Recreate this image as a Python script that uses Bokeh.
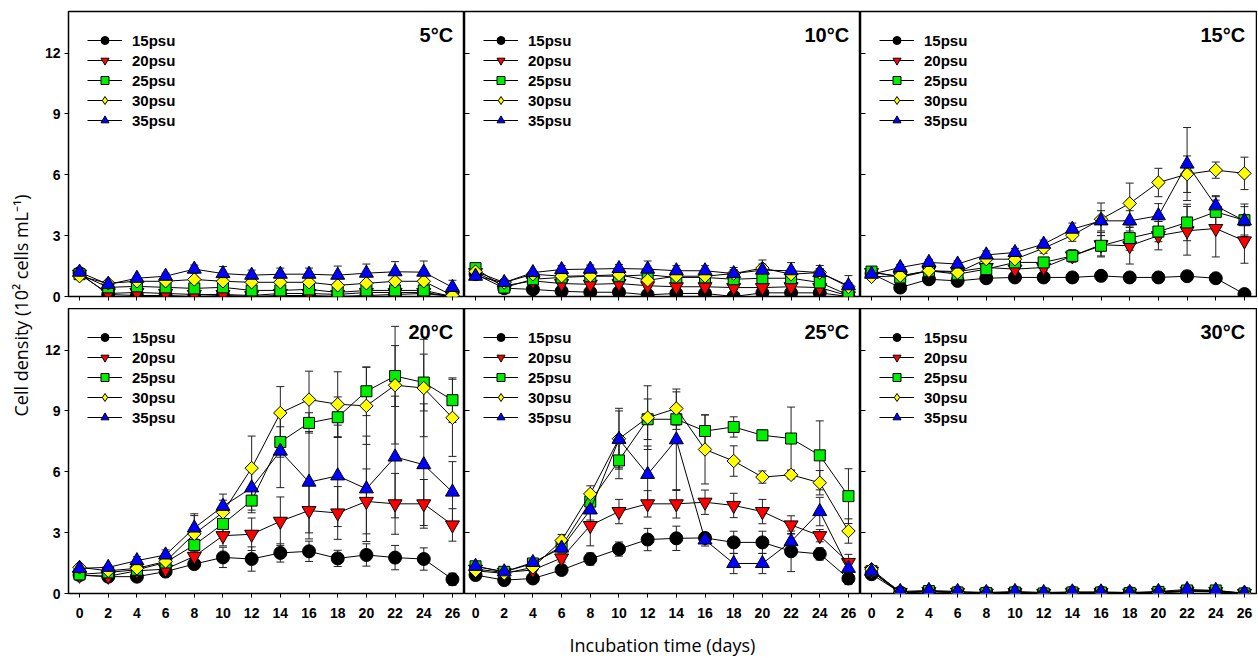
import numpy as np
from bokeh.plotting import figure
from bokeh.models import (ColumnDataSource, Whisker, TeeHead, Legend, LegendItem,
                          Range1d, Label, FixedTicker, CustomLabelingPolicy)
from bokeh.layouts import row, column
from bokeh.embed import file_html
from bokeh.resources import INLINE

# ---------------- data ----------------
days = [0, 2, 4, 6, 8, 10, 12, 14, 16, 18, 20, 22, 24, 26]
salinity_labels = ["15psu", "20psu", "25psu", "30psu", "35psu"]
temperature_labels = ["5\u00b0C", "10\u00b0C", "15\u00b0C", "20\u00b0C", "25\u00b0C", "30\u00b0C"]
y_ticks = [0, 3, 6, 9, 12]

# 5 C
t05_s15 = [1.15, 0.10, 0.05, 0.05, 0.00, 0.05, 0.00, 0.05, 0.05, 0.00, 0.05, 0.10, 0.15, 0.00]
t05_s20 = [1.10, 0.15, 0.20, 0.15, 0.10, 0.10, 0.05, 0.15, 0.15, 0.10, 0.20, 0.20, 0.20, 0.00]
t05_s25 = [1.10, 0.45, 0.50, 0.45, 0.40, 0.45, 0.30, 0.30, 0.35, 0.20, 0.30, 0.30, 0.30, 0.00]
t05_s30 = [1.00, 0.65, 0.75, 0.75, 0.84, 0.75, 0.70, 0.70, 0.70, 0.55, 0.65, 0.75, 0.75, 0.05]
t05_s35 = [1.20, 0.60, 0.90, 1.00, 1.35, 1.13, 1.05, 1.10, 1.10, 1.05, 1.15, 1.22, 1.20, 0.45]
t05_s15_sd = [0.10, 0.05, 0.05, 0.05, 0.05, 0.05, 0.05, 0.05, 0.05, 0.05, 0.05, 0.05, 0.05, 0.02]
t05_s20_sd = [0.10, 0.05, 0.05, 0.05, 0.05, 0.05, 0.05, 0.05, 0.05, 0.05, 0.05, 0.05, 0.05, 0.02]
t05_s25_sd = [0.10, 0.10, 0.10, 0.10, 0.10, 0.10, 0.10, 0.10, 0.10, 0.10, 0.10, 0.10, 0.10, 0.05]
t05_s30_sd = [0.10, 0.10, 0.10, 0.10, 0.15, 0.15, 0.15, 0.15, 0.15, 0.15, 0.15, 0.15, 0.15, 0.05]
t05_s35_sd = [0.10, 0.10, 0.10, 0.15, 0.20, 0.35, 0.25, 0.30, 0.30, 0.45, 0.45, 0.50, 0.55, 0.35]

# 10 C
t10_s15 = [1.10, 0.41, 0.35, 0.26, 0.21, 0.21, 0.08, 0.15, 0.15, 0.00, 0.18, 0.18, 0.18, 0.00]
t10_s20 = [1.18, 0.53, 0.77, 0.64, 0.60, 0.64, 0.53, 0.48, 0.48, 0.44, 0.44, 0.48, 0.44, 0.03]
t10_s25 = [1.40, 0.44, 0.85, 0.94, 1.00, 1.00, 1.07, 0.94, 0.94, 0.85, 0.90, 0.90, 0.69, 0.07]
t10_s30 = [1.23, 0.69, 1.10, 1.00, 1.02, 1.07, 0.80, 1.00, 1.00, 1.13, 1.40, 1.10, 1.18, 0.48]
t10_s35 = [1.00, 0.69, 1.18, 1.33, 1.35, 1.38, 1.35, 1.27, 1.27, 1.13, 1.30, 1.27, 1.18, 0.53]
t10_s15_sd = [0.10, 0.05, 0.05, 0.05, 0.05, 0.05, 0.05, 0.05, 0.05, 0.05, 0.05, 0.05, 0.05, 0.02]
t10_s20_sd = [0.10, 0.05, 0.10, 0.10, 0.10, 0.10, 0.10, 0.10, 0.10, 0.10, 0.10, 0.10, 0.10, 0.05]
t10_s25_sd = [0.10, 0.10, 0.10, 0.10, 0.10, 0.10, 0.15, 0.15, 0.15, 0.15, 0.15, 0.15, 0.15, 0.10]
t10_s30_sd = [0.10, 0.10, 0.10, 0.15, 0.15, 0.15, 0.20, 0.20, 0.20, 0.20, 0.20, 0.20, 0.20, 0.20]
t10_s35_sd = [0.10, 0.10, 0.10, 0.20, 0.20, 0.20, 0.40, 0.25, 0.25, 0.30, 0.50, 0.40, 0.35, 0.50]

# 15 C
t15_s15 = [1.13, 0.44, 0.85, 0.77, 0.90, 0.94, 0.94, 0.94, 1.02, 0.94, 0.94, 1.00, 0.90, 0.12]
t15_s20 = [1.18, 1.00, 1.27, 1.23, 1.43, 1.35, 1.43, 2.00, 2.55, 2.50, 3.00, 3.24, 3.35, 2.74]
t15_s25 = [1.23, 0.94, 1.27, 1.10, 1.35, 1.68, 1.68, 2.00, 2.50, 2.88, 3.20, 3.65, 4.17, 3.76]
t15_s30 = [0.97, 1.02, 1.27, 1.18, 1.84, 1.84, 2.38, 3.02, 3.81, 4.59, 5.62, 6.03, 6.23, 6.07]
t15_s35 = [1.10, 1.43, 1.68, 1.60, 2.05, 2.17, 2.58, 3.32, 3.73, 3.73, 3.98, 6.53, 4.47, 3.73]
t15_s15_sd = [0.10, 0.15, 0.15, 0.15, 0.15, 0.25, 0.20, 0.25, 0.20, 0.20, 0.25, 0.25, 0.20, 0.05]
t15_s20_sd = [0.10, 0.10, 0.10, 0.10, 0.15, 0.20, 0.15, 0.30, 0.60, 0.90, 0.70, 1.20, 1.40, 1.10]
t15_s25_sd = [0.10, 0.10, 0.10, 0.10, 0.15, 0.20, 0.20, 0.30, 0.50, 0.60, 0.50, 0.90, 0.75, 0.80]
t15_s30_sd = [0.10, 0.10, 0.10, 0.10, 0.20, 0.15, 0.25, 0.30, 0.80, 1.00, 0.70, 0.90, 0.40, 0.80]
t15_s35_sd = [0.10, 0.15, 0.15, 0.15, 0.20, 0.20, 0.20, 0.30, 0.50, 0.50, 0.60, 1.80, 0.50, 0.70]

# 20 C
t20_s15 = [0.91, 0.83, 0.83, 1.08, 1.45, 1.78, 1.70, 2.00, 2.08, 1.73, 1.90, 1.77, 1.70, 0.70]
t20_s20 = [0.90, 0.85, 1.12, 1.20, 1.83, 2.85, 2.92, 3.56, 4.09, 3.97, 4.54, 4.42, 4.42, 3.38]
t20_s25 = [0.94, 1.04, 1.17, 1.53, 2.39, 3.43, 4.58, 7.47, 8.41, 8.69, 9.97, 10.72, 10.40, 9.53]
t20_s30 = [1.29, 1.12, 1.24, 1.58, 2.94, 4.00, 6.18, 8.90, 9.56, 9.33, 9.25, 10.27, 10.13, 8.66]
t20_s35 = [1.24, 1.29, 1.62, 1.90, 3.23, 4.30, 5.21, 7.02, 5.49, 5.80, 5.16, 6.73, 6.35, 5.00]
t20_s15_sd = [0.15, 0.10, 0.15, 0.15, 0.20, 0.50, 0.60, 0.45, 0.50, 0.40, 0.55, 0.60, 0.55, 0.30]
t20_s20_sd = [0.15, 0.10, 0.15, 0.15, 0.30, 0.50, 0.80, 1.20, 1.40, 1.30, 1.60, 1.50, 1.20, 0.80]
t20_s25_sd = [0.15, 0.10, 0.15, 0.15, 0.30, 0.50, 0.60, 0.75, 0.50, 1.00, 1.20, 1.50, 1.40, 1.10]
t20_s30_sd = [0.15, 0.10, 0.15, 0.15, 0.90, 0.60, 1.58, 1.30, 1.40, 1.60, 1.90, 2.90, 2.40, 1.90]
t20_s35_sd = [0.15, 0.10, 0.20, 0.25, 0.70, 0.60, 1.10, 1.80, 2.50, 2.50, 2.60, 3.00, 3.00, 1.50]

# 25 C
t25_s15 = [0.91, 0.66, 0.74, 1.16, 1.70, 2.19, 2.66, 2.72, 2.74, 2.52, 2.52, 2.08, 1.95, 0.74]
t25_s20 = [1.20, 1.04, 1.16, 1.75, 3.35, 4.04, 4.42, 4.42, 4.50, 4.34, 4.04, 3.38, 2.85, 1.53]
t25_s25 = [1.34, 1.07, 1.48, 2.33, 4.53, 6.56, 8.59, 8.59, 8.01, 8.21, 7.80, 7.64, 6.81, 4.80]
t25_s30 = [1.12, 0.99, 1.29, 2.61, 4.91, 7.63, 8.67, 9.12, 7.10, 6.53, 5.74, 5.85, 5.46, 3.08]
t25_s35 = [1.34, 1.07, 1.53, 2.24, 4.12, 7.60, 5.87, 7.58, 2.64, 1.48, 1.48, 2.56, 4.04, 1.24]
t25_s15_sd = [0.10, 0.10, 0.10, 0.15, 0.30, 0.35, 0.55, 0.60, 0.25, 0.55, 0.55, 1.00, 0.30, 0.30]
t25_s20_sd = [0.10, 0.10, 0.15, 0.20, 1.00, 0.60, 0.65, 0.70, 0.60, 0.60, 0.60, 0.45, 0.30, 0.40]
t25_s25_sd = [0.10, 0.10, 0.15, 0.20, 0.40, 0.90, 1.00, 0.50, 0.80, 0.50, 0.25, 1.55, 1.70, 1.35]
t25_s30_sd = [0.10, 0.10, 0.15, 0.30, 0.40, 1.50, 1.57, 0.82, 1.70, 0.75, 0.30, 0.20, 0.60, 0.60]
t25_s35_sd = [0.10, 0.10, 0.15, 0.20, 0.50, 1.40, 1.40, 2.50, 0.30, 0.50, 0.50, 0.40, 0.70, 0.30]

# 30 C
t30_s15 = [0.95, 0.05, 0.10, 0.05, 0.02, 0.05, 0.00, 0.05, 0.05, 0.02, 0.05, 0.10, 0.10, 0.00]
t30_s20 = [1.10, 0.05, 0.10, 0.05, 0.02, 0.05, 0.00, 0.05, 0.05, 0.02, 0.05, 0.12, 0.10, 0.00]
t30_s25 = [1.10, 0.00, 0.12, 0.05, 0.02, 0.05, 0.00, 0.05, 0.05, 0.02, 0.08, 0.15, 0.15, 0.00]
t30_s30 = [1.20, 0.05, 0.10, 0.05, 0.00, 0.03, 0.00, 0.05, 0.03, 0.02, 0.05, 0.10, 0.08, 0.00]
t30_s35 = [1.10, 0.10, 0.15, 0.10, 0.05, 0.10, 0.05, 0.08, 0.08, 0.05, 0.10, 0.20, 0.15, 0.02]
t30_s15_sd = [0.10, 0.05, 0.05, 0.05, 0.05, 0.05, 0.05, 0.05, 0.05, 0.05, 0.05, 0.05, 0.05, 0.02]
t30_s20_sd = [0.10, 0.05, 0.05, 0.05, 0.05, 0.05, 0.05, 0.05, 0.05, 0.05, 0.05, 0.05, 0.05, 0.02]
t30_s25_sd = [0.10, 0.05, 0.05, 0.05, 0.05, 0.05, 0.05, 0.05, 0.05, 0.05, 0.05, 0.05, 0.05, 0.02]
t30_s30_sd = [0.10, 0.05, 0.05, 0.05, 0.05, 0.05, 0.05, 0.05, 0.05, 0.05, 0.05, 0.05, 0.05, 0.02]
t30_s35_sd = [0.10, 0.05, 0.05, 0.05, 0.05, 0.05, 0.05, 0.05, 0.05, 0.05, 0.05, 0.05, 0.05, 0.02]

panel_means = [
    [t05_s15, t05_s20, t05_s25, t05_s30, t05_s35],
    [t10_s15, t10_s20, t10_s25, t10_s30, t10_s35],
    [t15_s15, t15_s20, t15_s25, t15_s30, t15_s35],
    [t20_s15, t20_s20, t20_s25, t20_s30, t20_s35],
    [t25_s15, t25_s20, t25_s25, t25_s30, t25_s35],
    [t30_s15, t30_s20, t30_s25, t30_s30, t30_s35],
]
panel_sds = [
    [t05_s15_sd, t05_s20_sd, t05_s25_sd, t05_s30_sd, t05_s35_sd],
    [t10_s15_sd, t10_s20_sd, t10_s25_sd, t10_s30_sd, t10_s35_sd],
    [t15_s15_sd, t15_s20_sd, t15_s25_sd, t15_s30_sd, t15_s35_sd],
    [t20_s15_sd, t20_s20_sd, t20_s25_sd, t20_s30_sd, t20_s35_sd],
    [t25_s15_sd, t25_s20_sd, t25_s25_sd, t25_s30_sd, t25_s35_sd],
    [t30_s15_sd, t30_s20_sd, t30_s25_sd, t30_s30_sd, t30_s35_sd],
]

# ---------------- styles ----------------
markers = ["circle", "inverted_triangle", "square", "square", "triangle"]
marker_angles = [0, 0, 0, np.pi / 4, 0]
legend_markers = ["circle", "inverted_triangle", "square", "diamond", "triangle"]
marker_colors = ["#000000", "#ff0000", "#00ee00", "#ffff00", "#0000ff"]
marker_sizes = [13, 14, 11, 9.5, 14]

BOLD = "Liberation Sans"
TITLE_FONT = "Open Sans"
FW, FH = 396, 285
NO_LABELS = "for (const i of Array.from(indices)) { indices.unset(i) }\nreturn indices"


def make_panel(idx):
    col, rw = idx % 3, idx // 3
    p = figure(frame_width=FW, frame_height=FH,
               x_range=Range1d(-0.77, 26.84), y_range=Range1d(0, 14.05),
               output_backend="svg", toolbar_location=None, tools="",
               background_fill_color="white", border_fill_color="white")
    p.min_border_left = 30 if col == 0 else 0
    p.min_border_right = 1 if col == 2 else 0
    p.min_border_top = 11 if rw == 0 else 0
    p.min_border_bottom = 12 if rw == 0 else 30
    p.xgrid.visible = False
    p.ygrid.visible = False
    p.outline_line_color = "black"
    p.outline_line_width = 1.5

    xa = p.xaxis[0]
    xa.ticker = FixedTicker(ticks=days)
    xa.major_tick_out = 4
    xa.major_tick_in = 0
    xa.minor_tick_line_color = None
    xa.axis_line_color = None
    xa.major_tick_line_color = "black"
    if rw == 0:
        xa.major_label_policy = CustomLabelingPolicy(code=NO_LABELS)
        xa.major_label_text_font_size = "0px"
        xa.major_label_standoff = 0
    else:
        xa.major_label_text_font = BOLD
        xa.major_label_text_font_style = "bold"
        xa.major_label_text_font_size = "14px"
        xa.major_label_text_color = "black"
        xa.major_label_standoff = 10
        if col == 1:
            xa.axis_label = "Incubation time (days)"
            xa.axis_label_text_font = TITLE_FONT
            xa.axis_label_text_font_style = "normal"
            xa.axis_label_text_font_size = "18px"
            xa.axis_label_text_color = "black"
            xa.axis_label_standoff = 12

    ya = p.yaxis[0]
    ya.ticker = FixedTicker(ticks=y_ticks)
    ya.minor_tick_line_color = None
    ya.axis_line_color = None
    ya.major_tick_line_color = "black"
    if col == 0:
        ya.major_tick_out = 4
        ya.major_tick_in = 0
        ya.major_label_text_font = BOLD
        ya.major_label_text_font_style = "bold"
        ya.major_label_text_font_size = "14px"
        ya.major_label_text_color = "black"
        ya.major_label_standoff = 4
    else:
        # inner ticks only, no labels
        ya.major_tick_out = 0
        ya.major_tick_in = 5
        ya.major_label_policy = CustomLabelingPolicy(code=NO_LABELS)
        ya.major_label_text_font_size = "0px"
        ya.major_label_standoff = 0

    means = panel_means[idx]
    sds = panel_sds[idx]
    for m, s in zip(means, sds):
        m_a, s_a = np.array(m), np.array(s)
        src = ColumnDataSource(dict(x=days, upper=m_a + s_a, lower=m_a - s_a))
        p.add_layout(Whisker(source=src, base="x", upper="upper", lower="lower",
                             line_color="#222222", line_width=1,
                             upper_head=TeeHead(size=8, line_color="#222222", line_width=1),
                             lower_head=TeeHead(size=8, line_color="#222222", line_width=1)))
    items = []
    for k, m in enumerate(means):
        src = ColumnDataSource(dict(x=days, y=m))
        r_line = p.line("x", "y", source=src, line_color="black", line_width=1)
        legend_glyph = None
        if legend_markers[k] != markers[k]:
            # small glyph hidden under the rotated squares, used only for the legend key
            legend_glyph = p.scatter("x", "y", source=src, marker=legend_markers[k], size=5,
                                     fill_color=marker_colors[k], line_color="black",
                                     line_width=1)
        r_sc = p.scatter("x", "y", source=src, marker=markers[k], size=marker_sizes[k],
                         angle=marker_angles[k], fill_color=marker_colors[k],
                         line_color="black", line_width=1)
        items.append(LegendItem(label=salinity_labels[k],
                                renderers=[r_line, legend_glyph or r_sc]))
    legend = Legend(items=items, location="top_left",
                    glyph_width=35, glyph_height=20, label_height=20, spacing=0,
                    padding=10, margin=19, label_standoff=10,
                    label_text_font=BOLD, label_text_font_style="bold",
                    label_text_font_size="15px", label_text_color="black",
                    background_fill_alpha=0, border_line_color=None)
    p.add_layout(legend)
    p.add_layout(Label(x=26.05, y=12.87, text=temperature_labels[idx],
                       text_align="right", text_baseline="alphabetic",
                       text_font=BOLD, text_font_style="bold",
                       text_font_size="20px", text_color="black"))
    return p


panels = [make_panel(i) for i in range(6)]

# y-axis title spanning both rows
YT_W, YT_H = 38, 650
yt = figure(width=YT_W, height=YT_H, x_range=Range1d(0, YT_W), y_range=Range1d(0, YT_H),
            output_backend="svg", toolbar_location=None, tools="", min_border=0,
            background_fill_color="white", border_fill_color="white")
yt.axis.visible = False
yt.xgrid.visible = False
yt.ygrid.visible = False
yt.outline_line_color = None
yt.add_layout(Label(x=20, y=YT_H - 305, text="Cell density (10\u00b2 cells mL\u207b\u00b9)",
                    angle=np.pi / 2, text_align="center", text_baseline="middle",
                    text_font=TITLE_FONT, text_font_size="18px", text_color="black"))

layout = row(yt, column(row(*panels[:3]), row(*panels[3:])))

open("out.html", "w").write(file_html(layout, INLINE))
